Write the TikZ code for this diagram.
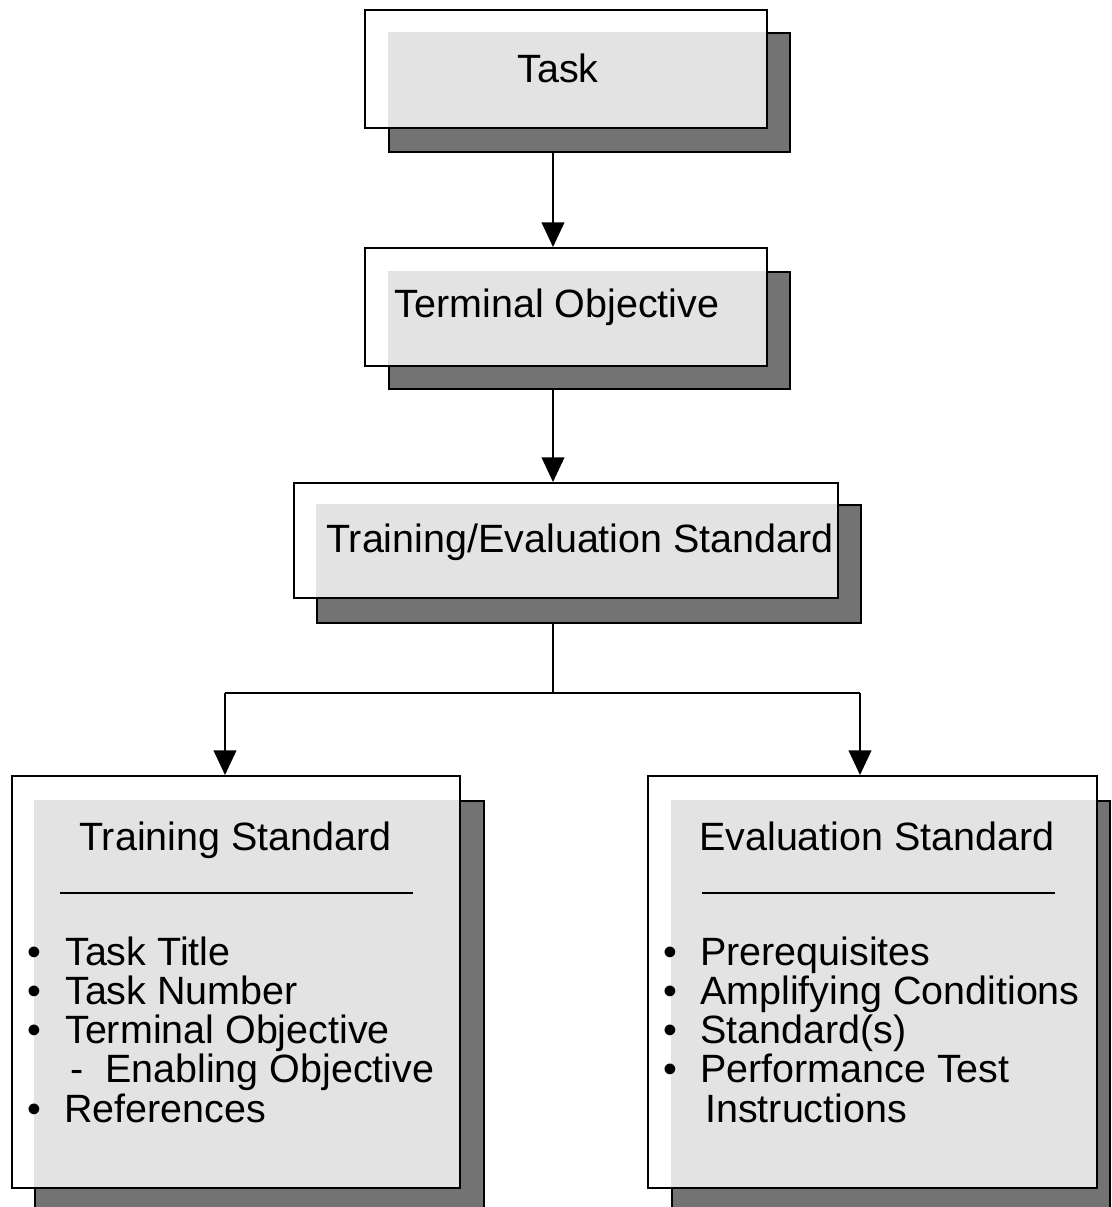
\documentclass[tikz,border=0pt]{standalone}
\usepackage{fontspec}
\setmainfont{Liberation Sans}
\usepackage{xcolor}
\usetikzlibrary{fit,arrows.meta}

\definecolor{shadowgray}{rgb}{0.45,0.45,0.45}
\definecolor{lightgray}{rgb}{0.89,0.89,0.89}

\begin{document}
\begin{tikzpicture}[x=0.75pt,y=0.75pt,yscale=-1,xscale=1,
	shadowbox/.style={draw=black,line width=1.5pt,fill=shadowgray,inner sep=0pt},
	frontbox/.style={draw=black,line width=1.5pt,inner sep=0pt},
	link/.style={draw=black,line width=1.5pt,-{Triangle[length=18.5pt,width=17pt]}},
	plain/.style={draw=black,line width=1.5pt},
	bigtxt/.style={font=\fontsize{29.6}{29.4}\selectfont,inner sep=0pt}]
				\clip (0,0) rectangle (1111,1207);
				
				%Shape: Task [id:task]
				\node [shadowbox,fit={(389,33) (790,152)}] (task-sh) {};
				\fill [white] (365,10) rectangle (767,128);
				\fill [lightgray] (task-sh.north west) rectangle (767,128);
				\node [frontbox,fit={(365,10) (767,128)}] (task) {};
				
				%Shape: Terminal Objective [id:termobj]
				\node [shadowbox,fit={(389,272) (790,389)}] (termobj-sh) {};
				\fill [white] (365,248) rectangle (767,366);
				\fill [lightgray] (termobj-sh.north west) rectangle (767,366);
				\node [frontbox,fit={(365,248) (767,366)}] (termobj) {};
				
				%Shape: Training/Evaluation Standard [id:trneval]
				\node [shadowbox,fit={(317,505) (861,623)}] (trneval-sh) {};
				\fill [white] (294,483) rectangle (838,598);
				\fill [lightgray] (trneval-sh.north west) rectangle (838,598);
				\node [frontbox,fit={(294,483) (838,598)}] (trneval) {};
				
				%Shape: Training Standard [id:trnstd]
				\node [shadowbox,fit={(35,801) (484,1212)}] (trnstd-sh) {};
				\fill [white] (12,776) rectangle (460,1188);
				\fill [lightgray] (trnstd-sh.north west) rectangle (460,1188);
				\node [frontbox,fit={(12,776) (460,1188)}] (trnstd) {};
				
				%Shape: Evaluation Standard [id:evalstd]
				\node [shadowbox,fit={(672,801) (1110,1212)}] (evalstd-sh) {};
				\fill [white] (648,776) rectangle (1097,1188);
				\fill [lightgray] (evalstd-sh.north west) rectangle (1097,1188);
				\node [frontbox,fit={(648,776) (1097,1188)}] (evalstd) {};
				
				%Straight Lines [id:links]
				\coordinate (spine) at (553,0);
				\coordinate (fork) at (553,693);
				\coordinate (leftdrop) at (225,693);
				\coordinate (rightdrop) at (860,693);
				\draw [link] (task-sh.south -| spine) -- (termobj.north -| spine) ;
				\draw [link] (termobj-sh.south -| spine) -- (trneval.north -| spine) ;
				\draw [plain] (trneval-sh.south -| spine) -- (fork) ;
				\draw [plain] (leftdrop) -- (rightdrop) ;
				\draw [link] (leftdrop) -- (trnstd.north -| leftdrop) ;
				\draw [link] (rightdrop) -- (evalstd.north -| rightdrop) ;
				
				%Straight Lines [id:rules]
				\draw [line width=1.5pt] (60,893) -- (413,893) ;
				\draw [line width=1.5pt] (702,893) -- (1055,893) ;
				
				% Text Node
				\node [bigtxt,anchor=base] (task-txt) at (558,82) {Task};
				\node [bigtxt,anchor=base] (termobj-txt) at (557,317) {Terminal Objective};
				\node [bigtxt,anchor=base] (trneval-txt) at (580,552) {Training/Evaluation Standard};
				
				% Text Node
				\node [bigtxt,anchor=base west] (trnstd-ttl) at (79,850) {Training Standard};
				\node [bigtxt,anchor=base west] (trnstd-b1) at (27,965) {•};
				\node [bigtxt,anchor=base west] (trnstd-t1) at (65,965) {Task Title};
				\node [bigtxt,anchor=base west] (trnstd-b2) at (27,1004) {•};
				\node [bigtxt,anchor=base west] (trnstd-t2) at (65,1004) {Task Number};
				\node [bigtxt,anchor=base west] (trnstd-b3) at (27,1043) {•};
				\node [bigtxt,anchor=base west] (trnstd-t3) at (65,1043) {Terminal Objective};
				\node [bigtxt,anchor=base west] (trnstd-dash) at (70,1082) {-};
				\node [bigtxt,anchor=base west] (trnstd-t4) at (105,1082) {Enabling Objective};
				\node [bigtxt,anchor=base west] (trnstd-b5) at (27,1122) {•};
				\node [bigtxt,anchor=base west] (trnstd-t5) at (64,1122) {References};
				
				% Text Node
				\node [bigtxt,anchor=base west] (evalstd-ttl) at (699,850) {Evaluation Standard};
				\node [bigtxt,anchor=base west] (evalstd-b1) at (663,965) {•};
				\node [bigtxt,anchor=base west] (evalstd-t1) at (700,965) {Prerequisites};
				\node [bigtxt,anchor=base west] (evalstd-b2) at (663,1004) {•};
				\node [bigtxt,anchor=base west] (evalstd-t2) at (700,1004) {Amplifying Conditions};
				\node [bigtxt,anchor=base west] (evalstd-b3) at (663,1043) {•};
				\node [bigtxt,anchor=base west] (evalstd-t3) at (700,1043) {Standard(s)};
				\node [bigtxt,anchor=base west] (evalstd-b4) at (663,1082) {•};
				\node [bigtxt,anchor=base west] (evalstd-t4) at (700,1082) {Performance Test};
				\node [bigtxt,anchor=base west] (evalstd-t5) at (705,1122) {Instructions};
				
				\end{tikzpicture}
\end{document}
